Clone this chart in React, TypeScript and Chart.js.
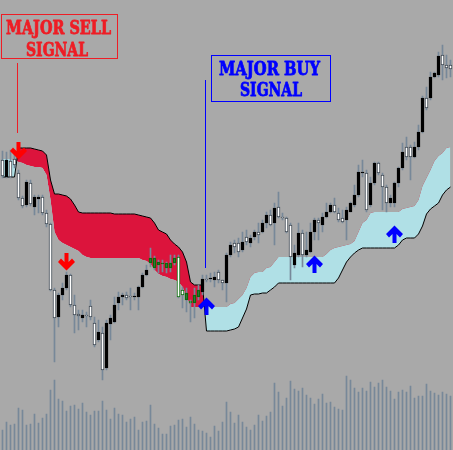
import React, { useEffect, useRef } from "react";
import { Chart, registerables } from "chart.js";

Chart.register(...registerables);

// ---- price data (one entry per bar) ----
const openP = [340,323,339,341,327,302,295,317,293,301, 303,287,276,210,183,205,212,225,195,186, 182,185,194,177,160,167,132,176,178,197, 203,205,204,203,203,213,225,237,232,235, 236,232,232,237,243,210,200,199,197,203, 208,221,221,220,228,220,217,245,257,257, 250,263,257,263,268,268,277,285,277,293, 283,282,275,235,245,267,245,248,268,280, 275,283,288,295,287,282,280,288,295,305, 327,327,295,317,337,325,313,297,297,317, 332,353,353,343,353,368,402,402,423,425, 445,435,435];
const highP = [349,348,350,350,330,304,320,320,305,305, 305,290,277,212,207,217,228,226,205,190, 190,188,200,183,180,173,180,185,203,208, 207,208,212,207,214,227,235,252,244,240, 240,238,245,245,245,213,212,200,212,215, 225,225,227,228,230,220,247,258,260,262, 268,270,265,270,277,280,288,290,297,308, 287,283,277,255,277,270,268,277,282,282, 287,297,297,302,292,290,293,298,315,335, 340,330,323,338,338,327,315,305,318,333, 357,363,355,358,375,404,413,428,428,448, 455,445,440];
const lowP = [322,322,322,332,300,292,293,294,285,287, 285,273,209,138,173,200,210,193,167,170, 178,173,180,153,158,120,130,160,177,190, 195,200,190,200,190,212,224,233,230,227, 228,227,228,235,202,192,188,178,182,200, 205,218,218,213,217,210,198,243,247,243, 248,255,253,260,257,267,272,274,255,282, 280,267,220,232,243,233,243,247,260,260, 268,282,287,287,278,277,260,288,293,303, 323,288,293,315,325,290,288,293,293,313, 330,340,320,342,350,367,390,400,422,423, 420,422,423];
const closeP = [324,340,323,335,302,294,318,296,303,303, 287,276,210,182,205,212,225,195,185,184, 185,184,183,155,168,130,177,182,195,203, 205,202,203,204,213,225,230,242,242,238, 237,237,237,242,203,205,207,197,205,210, 221,220,222,223,220,217,245,255,253,248, 258,258,262,268,265,277,285,275,292,283, 282,268,243,247,267,245,250,268,280,277, 283,288,295,288,280,278,290,297,305,328, 328,290,317,337,327,313,297,302,317,332, 348,343,343,353,368,402,392,423,427,444, 435,432,431];
const volume = [20,28,25,26,42,40,25,26,36,27, 32,36,60,70,51,49,39,44,45,41, 47,38,35,39,39,49,40,31,42,36, 35,28,31,33,20,28,29,45,26,22, 16,16,24,25,30,31,23,33,26,20, 19,17,13,24,19,28,48,38,27,35, 28,23,20,25,35,29,34,38,67,58, 44,52,69,61,59,62,55,52,46,51, 56,47,48,43,41,40,74,70,62,58, 62,59,68,63,67,70,63,59,51,58, 60,58,64,52,54,54,66,59,57,55, 58,56,54];

// ---- cloud (slow span drawn with black line, fast span unlined) ----
const cloudSlow = [323,323,323,323,352,352,352,352,351,350, 349,345,320,306,306,305,304,301,295,288, 287,287,287,287,287,287,287,287,286,286, 286,286,286,286,285,284,283,282,277,270, 268,266,260,256,253,248,238,218,215,215, 215,169,169,169,169,169,169,170,171,173, 182,191,205,206,206,207,207,210,213,217, 217,217,217,217,217,217,217,217,217,217, 217,217,217,217,222,230,238,243,247,250, 252,252,252,252,252,252,252,252,252,255, 260,262,262,262,266,274,286,291,294,297, 305,310,313];
const cloudFast = [341,341,341,340,338,337,335,334,333,333, 332,325,300,268,260,257,255,253,251,249, 245,243,242,242,242,242,242,242,242,242, 242,242,242,242,242,240,239,236,230,226, 224,223,221,220,218,213,204,193,193,193, 193,193,193,193,193,193,193,196,197,201, 205,212,223,227,228,228,232,233,238,243, 243,243,243,243,243,243,243,243,243,243, 243,246,250,252,253,254,255,256,259,268, 277,280,287,288,288,288,288,288,288,288, 291,292,293,294,300,314,322,330,339,344, 347,352,353];

// ---- signals ----
const sellSignalBars = [4, 16];
const sellSignalPrices = [349, 238];
const buySignalBars = [51, 78, 98];
const buySignalPrices = [194, 236, 266];

// bars drawn inside the bearish cloud get the cloud's overlay tint
const cloudTintFrom = 37;
const cloudTintTo = 49;

const categories = openP.map((_, i) => `Bar ${i + 1}`);

const PRICE_MIN = 50;
const PRICE_MAX = 500;
const VOL_MAX = 450;

const BG = "#a9a9a9";
const WICK = "#778899";
const CLOUD_BEAR = "#dc143c";
const CLOUD_BULL = "#b0e0e6";
const TINT = "#0b6b0b";
const SELL_RED = "#ee1d25";
const BUY_BLUE = "#0000ff";

function makeArrow(color: string, down: boolean) {
  const c = document.createElement("canvas");
  c.width = 17;
  c.height = 18;
  const ctx = c.getContext("2d")!;
  const pts = [[6.5, 0], [10.5, 0], [10.5, 9], [14, 5.5], [17, 9], [8.5, 17.5], [0, 9], [3, 5.5], [6.5, 9]];
  ctx.fillStyle = color;
  ctx.beginPath();
  pts.forEach(([x, y], k) => {
    const yy = down ? y : 18 - y;
    if (k === 0) ctx.moveTo(x, yy);
    else ctx.lineTo(x, yy);
  });
  ctx.closePath();
  ctx.fill();
  return c;
}

function fitText(ctx: CanvasRenderingContext2D, text: string, cx: number, baseline: number, width: number) {
  ctx.font = 'bold 18px "DejaVu Serif", "Liberation Serif", serif';
  const w = ctx.measureText(text).width;
  ctx.save();
  ctx.translate(cx, baseline);
  ctx.scale(width / w, 1);
  ctx.textAlign = "center";
  ctx.textBaseline = "alphabetic";
  ctx.lineWidth = 0.8;
  ctx.lineJoin = "round";
  ctx.strokeStyle = ctx.fillStyle as string;
  ctx.fillText(text, 0, 0);
  ctx.strokeText(text, 0, 0);
  ctx.restore();
}

const bgPlugin = {
  id: "bgfill",
  beforeDraw(chart: any) {
    const { ctx, width, height } = chart;
    ctx.save();
    ctx.fillStyle = BG;
    ctx.fillRect(0, 0, width, height);
    ctx.restore();
  },
};

const notesPlugin = {
  id: "notes",
  afterDatasetsDraw(chart: any) {
    const ctx: CanvasRenderingContext2D = chart.ctx;
    ctx.save();
    ctx.lineWidth = 1;
    // sell label
    ctx.strokeStyle = SELL_RED;
    ctx.strokeRect(1.5, 14.5, 116, 44);
    ctx.beginPath();
    ctx.moveTo(17.5, 63);
    ctx.lineTo(17.5, 133);
    ctx.stroke();
    ctx.fillStyle = SELL_RED;
    fitText(ctx, "MAJOR SELL", 58.5, 33.5, 105);
    fitText(ctx, "SIGNAL", 57, 55.5, 62);
    // buy label
    ctx.lineWidth = 1;
    ctx.strokeStyle = BUY_BLUE;
    ctx.strokeRect(211.5, 55.5, 119, 46);
    ctx.beginPath();
    ctx.moveTo(205.5, 80);
    ctx.lineTo(205.5, 268);
    ctx.stroke();
    ctx.fillStyle = BUY_BLUE;
    fitText(ctx, "MAJOR BUY", 269.5, 74.5, 101);
    fitText(ctx, "SIGNAL", 271, 95.5, 62);
    ctx.restore();
  },
};

export default function App() {
  const ref = useRef<HTMLCanvasElement>(null);

  useEffect(() => {
    document.body.style.margin = "0";
    const n = openP.length;
    const tinted = (i: number) => i >= cloudTintFrom && i <= cloudTintTo;
    const bodies = openP.map((o, i) => [o, closeP[i]]);
    const wicks = lowP.map((l, i) => [l, highP[i]]);
    const bodyFill = openP.map((o, i) => {
      const bull = closeP[i] > o;
      if (tinted(i)) return bull ? "rgba(0,0,0,0)" : "#ffffff";
      return bull ? "#000000" : "#ffffff";
    });
    const bodyBorder = openP.map((o, i) => {
      if (tinted(i)) return TINT;
      return closeP[i] > o ? "#000000" : "#3c4650";
    });
    const sellData: (number | null)[] = new Array(n).fill(null);
    sellSignalBars.forEach((b, k) => (sellData[b] = sellSignalPrices[k]));
    const buyData: (number | null)[] = new Array(n).fill(null);
    buySignalBars.forEach((b, k) => (buyData[b] = buySignalPrices[k]));

    const chart = new Chart(ref.current!, {
      type: "bar",
      data: {
        labels: categories,
        datasets: [
          {
            type: "line",
            data: cloudSlow,
            borderColor: "#000000",
            borderWidth: 1,
            pointRadius: 0,
            tension: 0,
            fill: { target: 1, above: CLOUD_BEAR, below: CLOUD_BULL },
            order: 10,
          } as any,
          {
            type: "line",
            data: cloudFast,
            borderColor: "rgba(0,0,0,0)",
            borderWidth: 0,
            pointRadius: 0,
            tension: 0,
            fill: false,
            order: 10,
          } as any,
          {
            type: "bar",
            data: volume,
            yAxisID: "yv",
            backgroundColor: WICK,
            barThickness: 1,
            borderWidth: 0,
            grouped: false,
            order: 9,
          } as any,
          {
            type: "bar",
            data: wicks,
            backgroundColor: WICK,
            barThickness: 1,
            borderWidth: 0,
            grouped: false,
            order: 5,
          } as any,
          {
            type: "bar",
            data: bodies,
            backgroundColor: bodyFill,
            borderColor: bodyBorder,
            borderWidth: 1,
            borderSkipped: false,
            barThickness: 3,
            grouped: false,
            order: 4,
          } as any,
          {
            type: "line",
            data: sellData,
            showLine: false,
            pointStyle: makeArrow("#ff0000", true),
            pointRadius: 8,
            order: 1,
          } as any,
          {
            type: "line",
            data: buyData,
            showLine: false,
            pointStyle: makeArrow(BUY_BLUE, false),
            pointRadius: 8,
            order: 1,
          } as any,
        ],
      },
      options: {
        responsive: false,
        animation: false,
        devicePixelRatio: 1,
        layout: { padding: { left: 0.5, right: 0.5, top: 0, bottom: 0 }, autoPadding: false },
        plugins: { legend: { display: false }, tooltip: { enabled: false }, title: { display: false } },
        scales: {
          x: { type: "category", display: false, offset: true, grid: { display: false } },
          y: { type: "linear", display: false, min: PRICE_MIN, max: PRICE_MAX },
          yv: { type: "linear", display: false, min: 0, max: VOL_MAX },
        },
      } as any,
      plugins: [bgPlugin, notesPlugin],
    });
    return () => chart.destroy();
  }, []);

  return (
    <div style={{ width: 453, height: 450 }}>
      <canvas ref={ref} width={453} height={450} style={{ display: "block" }} />
    </div>
  );
}
